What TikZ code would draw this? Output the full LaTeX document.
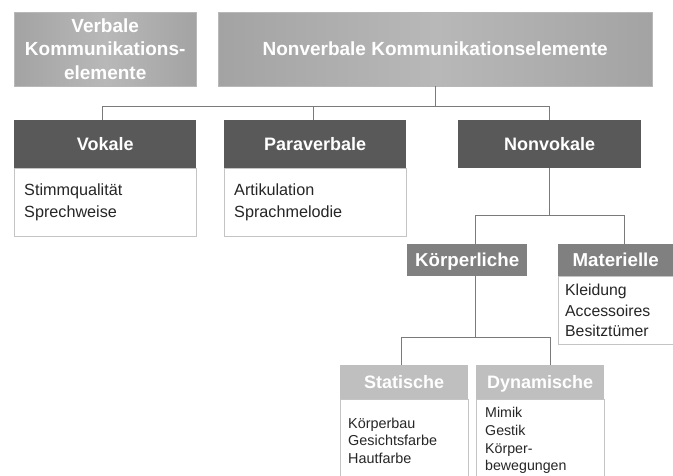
\documentclass[tikz,border=0pt]{standalone}
\usepackage{fontspec}
\setmainfont{Liberation Sans}
\usetikzlibrary{positioning,calc}

\definecolor{darkhead}{HTML}{595959}
\definecolor{midhead}{HTML}{808080}
\definecolor{lighthead}{HTML}{BFBFBF}
\definecolor{topedge}{HTML}{A3A3A3}
\definecolor{topmid}{HTML}{B8B8B8}
\definecolor{boxline}{HTML}{C4C4C4}
\definecolor{linkgray}{HTML}{7A7A7A}
\definecolor{bodytext}{HTML}{262626}

\tikzset{
  topbox/.style={anchor=north west, left color=topedge, right color=topedge,
    middle color=topmid, draw=topmid, text=white, align=center,
    font=\fontsize{19}{23.5}\selectfont\bfseries, inner sep=0pt},
  headbox/.style={anchor=north west, fill=darkhead, text=white,
    font=\fontsize{18}{22}\selectfont\bfseries, inner sep=0pt,
    text height=14pt, text depth=1.2pt},
  subhead/.style={headbox, fill=midhead, font=\fontsize{18.7}{22}\selectfont\bfseries,
    text height=14.5pt, text depth=1.2pt},
  lowhead/.style={headbox, fill=lighthead, font=\fontsize{18}{20}\selectfont\bfseries,
    text height=14pt, text depth=1.2pt},
  bodybox/.style={anchor=north west, draw=boxline, fill=white, text=bodytext,
    align=left, inner ysep=0pt, font=\fontsize{16.2}{22}\selectfont},
  link/.style={draw=linkgray, line width=1.2pt}
}

\begin{document}
\begin{tikzpicture}[x=1pt, y=-1pt]
  \useasboundingbox[fill=white] (0,0) rectangle (673,475);

  % obere Ebene
  \node[topbox, minimum width=182pt, minimum height=74pt] (verbal) at (14,12)
    {Verbale\\Kommunikations-\\elemente};
  \node[topbox, minimum width=434pt, minimum height=74pt] (nonverbal) at (218,12)
    {Nonverbale Kommunikationselemente};

  % zweite Ebene
  \node[headbox, minimum width=182pt, minimum height=48pt] (vokal) at (14,120) {Vokale};
  \node[bodybox, minimum width=182pt, minimum height=68pt, text width=162pt,
        below=0pt of vokal.south west, anchor=north west] (vokalList)
    {Stimmqualität\\Sprechweise};

  \node[headbox, minimum width=182pt, minimum height=48pt] (para) at (224,120) {Paraverbale};
  \node[bodybox, minimum width=182pt, minimum height=68pt, text width=162pt,
        below=0pt of para.south west, anchor=north west] (paraList)
    {Artikulation\\Sprachmelodie};

  \node[headbox, minimum width=183pt, minimum height=48pt] (nonvokal) at (458,120) {Nonvokale};

  % dritte Ebene
  \node[subhead, minimum width=120pt, minimum height=32pt] (koerper) at (407,244) {Körperliche};
  \node[subhead, minimum width=115pt, minimum height=32pt] (materiell) at (558,244) {Materielle};
  \node[bodybox, minimum width=115pt, minimum height=68pt, text width=101pt,
        inner xsep=7pt, font=\fontsize{15.8}{20.5}\selectfont,
        below=0pt of materiell.south west, anchor=north west] (materiellList)
    {Kleidung\\Accessoires\\Besitztümer};

  % vierte Ebene
  \node[lowhead, minimum width=128pt, minimum height=34pt] (statisch) at (340,365) {Statische};
  \node[bodybox, minimum width=128pt, minimum height=82pt, text width=112pt,
        inner xsep=8pt, font=\fontsize{14.4}{17.5}\selectfont,
        below=0pt of statisch.south west, anchor=north west] (statischList)
    {Körperbau\\Gesichtsfarbe\\Hautfarbe};
  \node[lowhead, minimum width=128pt, minimum height=34pt] (dynamisch) at (476,365) {Dynamische};
  \node[bodybox, minimum width=128pt, minimum height=82pt, text width=110pt,
        inner xsep=9pt, font=\fontsize{14.2}{17.8}\selectfont,
        below=0pt of dynamisch.south west, anchor=north west] (dynamischList)
    {Mimik\\Gestik\\Körper-\\bewegungen};

  % Verbindungen
  \coordinate (barTop) at ($(nonverbal.south)+(0,20)$);
  \draw[link] (nonverbal.south) -- (barTop);
  \draw[link] ([xshift=-3pt]vokal.north) |- (barTop) -| (nonvokal.north);
  \draw[link] ([xshift=-2pt]para.north) -- ([xshift=-2pt]para.north |- barTop);

  \coordinate (barMid) at ($(nonvokal.south)+(0,47)$);
  \draw[link] (nonvokal.south) -- (barMid);
  \draw[link] ([xshift=8pt]koerper.north) |- (barMid) -| ([xshift=9pt]materiell.north);

  \coordinate (barLow) at ($([xshift=8pt]koerper.south)+(0,61)$);
  \draw[link] ([xshift=8pt]koerper.south) -- (barLow);
  \draw[link] ([xshift=-3pt]statisch.north) |- (barLow) -| ([xshift=10pt]dynamisch.north);
\end{tikzpicture}
\end{document}
